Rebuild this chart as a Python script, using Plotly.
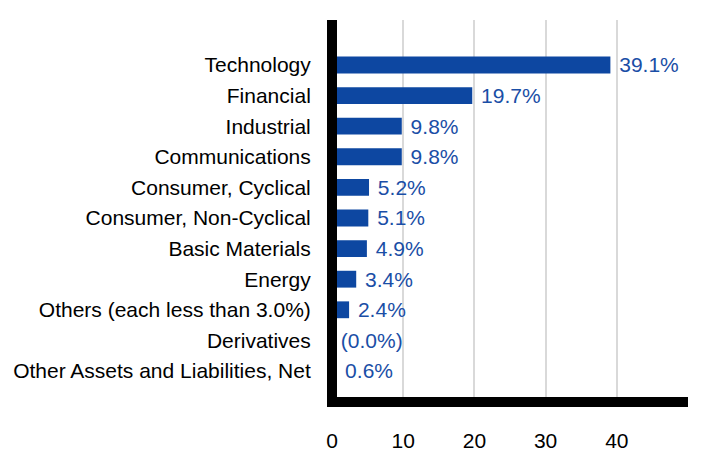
import plotly.graph_objects as go

categories = [
    "Technology", "Financial", "Industrial", "Communications",
    "Consumer, Cyclical", "Consumer, Non-Cyclical", "Basic Materials",
    "Energy", "Others (each less than 3.0%)", "Derivatives",
    "Other Assets and Liabilities, Net",
]
values = [39.1, 19.7, 9.8, 9.8, 5.2, 5.1, 4.9, 3.4, 2.4, 0.0, 0.6]
value_labels = ["39.1%", "19.7%", "9.8%", "9.8%", "5.2%", "5.1%", "4.9%",
                "3.4%", "2.4%", "(0.0%)", "0.6%"]
x_ticks = [0, 10, 20, 30, 40]

BAR = "#0D47A1"
LABEL = "#1A4EA6"
FONT = "Liberation Sans, Arial, sans-serif"
FS = 21

fig = go.Figure(go.Bar(
    y=categories, x=values, orientation="h",
    marker=dict(color=BAR, line=dict(width=0)),
    width=0.55,
    text=[" " + t for t in value_labels],
    textposition="outside",
    constraintext="none",
    cliponaxis=False,
    textfont=dict(color=LABEL, size=FS, family=FONT),
    hoverinfo="skip",
))

fig.update_layout(
    width=720, height=468,
    margin=dict(l=324, r=40, t=12, b=79, autoexpand=False),
    paper_bgcolor="white", plot_bgcolor="white",
    showlegend=False,
    font=dict(family=FONT, size=FS, color="#000000"),
)
fig.update_xaxes(
    range=[0, 50], tickvals=x_ticks, ticktext=[str(v) for v in x_ticks],
    showgrid=True, gridcolor="#D9D9D9", gridwidth=1.5,
    showline=True, linecolor="black", linewidth=10,
    zeroline=True, zerolinecolor="black", zerolinewidth=10,
    ticks="", ticklabelstandoff=16, automargin=False,
    tickfont=dict(size=FS, color="#000000", family=FONT),
    fixedrange=True,
)
fig.update_yaxes(
    type="category", categoryorder="array", categoryarray=categories,
    range=[10.85, -1.47],
    showgrid=False, showline=True, linecolor="black", linewidth=5,
    ticks="", ticklabelstandoff=12, automargin=False,
    tickfont=dict(size=FS, color="#000000", family=FONT),
    fixedrange=True,
)
try:
    fig.update_xaxes(zerolinelayer="above traces")
except Exception:
    pass

fig.write_html("out.html")
